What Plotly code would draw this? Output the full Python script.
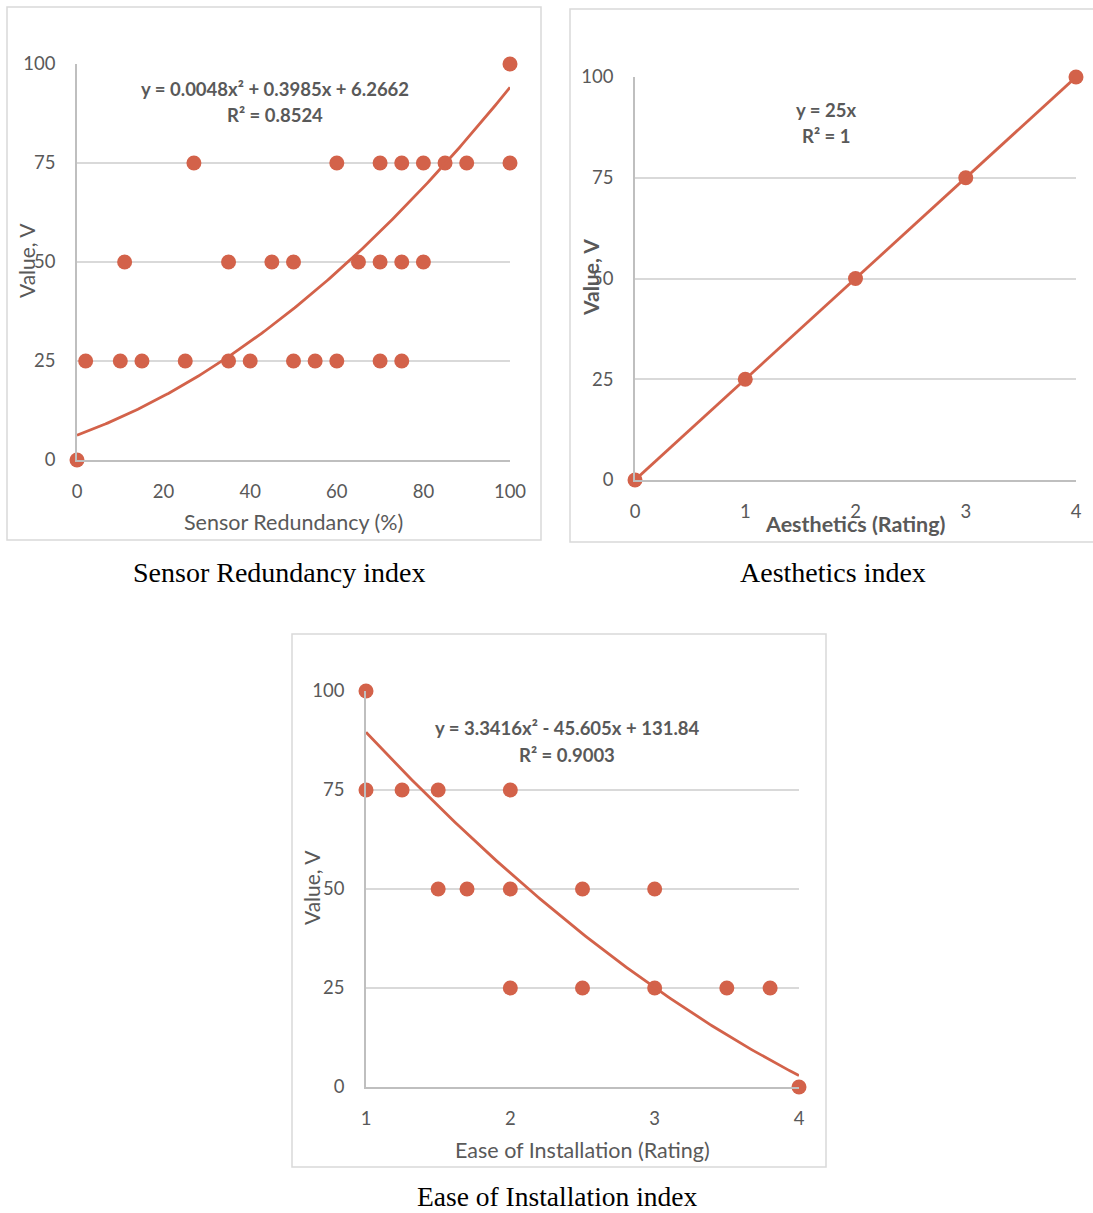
import numpy as np
import plotly.graph_objects as go

W, H = 1093, 1213

# ---------------- data ----------------
sr_x = [0, 2, 10, 15, 25, 35, 40, 50, 55, 60, 70, 75,
        11, 35, 45, 50, 65, 70, 75, 80,
        27, 60, 70, 75, 80, 85, 90, 100,
        100]
sr_y = [0, 25, 25, 25, 25, 25, 25, 25, 25, 25, 25, 25,
        50, 50, 50, 50, 50, 50, 50, 50,
        75, 75, 75, 75, 75, 75, 75, 75,
        100]
sr_coef = [0.0048, 0.3985, 6.2662]

ae_x = [0, 1, 2, 3, 4]
ae_y = [0, 25, 50, 75, 100]
ae_coef = [25, 0]

ei_x = [1, 1, 1.25, 1.5, 2, 1.5, 1.7, 2, 2.5, 3, 2, 2.5, 3, 3.5, 3.8, 4]
ei_y = [100, 75, 75, 75, 75, 50, 50, 50, 50, 50, 25, 25, 25, 25, 25, 0]
ei_coef = [3.3416, -45.605, 131.84]

sr_ticks_x = [0, 20, 40, 60, 80, 100]
ae_ticks_x = [0, 1, 2, 3, 4]
ei_ticks_x = [1, 2, 3, 4]
y_ticks = [0, 25, 50, 75, 100]

# ---------------- style ----------------
ORANGE = "#D3624A"
TXT = "#595959"
GRID = "#D9D9D9"
AXL = "#BFBFBF"
FONT = "Lato"


def px(x):
    return x / W


def py(y):
    return 1 - y / H


fig = go.Figure()

panels = [
    dict(x=sr_x, y=sr_y, coef=sr_coef, tr=(0, 100), ax="", xd=(77, 510), yd=(64, 460),
         xr=(0, 100), xt=sr_ticks_x),
    dict(x=ae_x, y=ae_y, coef=ae_coef, tr=(0, 4), ax="2", xd=(635, 1076), yd=(77, 480),
         xr=(0, 4), xt=ae_ticks_x),
    dict(x=ei_x, y=ei_y, coef=ei_coef, tr=(1, 4), ax="3", xd=(366, 799), yd=(691, 1087),
         xr=(1, 4), xt=ei_ticks_x),
]

for p in panels:
    xa = "x" + p["ax"]
    ya = "y" + p["ax"]
    xs = np.linspace(p["tr"][0], p["tr"][1], 200)
    ys = np.polyval(p["coef"], xs)
    fig.add_trace(go.Scatter(x=p["x"], y=p["y"], mode="markers", xaxis=xa, yaxis=ya,
                             marker=dict(color=ORANGE, size=15), cliponaxis=False,
                             showlegend=False, hoverinfo="skip"))
    fig.add_trace(go.Scatter(x=xs, y=ys, mode="lines", xaxis=xa, yaxis=ya,
                             line=dict(color=ORANGE, width=2.8), cliponaxis=False,
                             showlegend=False, hoverinfo="skip"))
    xkey = "xaxis" + p["ax"]
    ykey = "yaxis" + p["ax"]
    fig.update_layout(**{
        xkey: dict(domain=[px(p["xd"][0]), px(p["xd"][1])], range=list(p["xr"]),
                   tickvals=p["xt"], showgrid=False, zeroline=False, showline=True,
                   linecolor=AXL, linewidth=1.5, anchor=ya, ticks="",
                   ticklabelstandoff=14, automargin=False,
                   tickfont=dict(family=FONT, size=18.5, color=TXT), fixedrange=True),
        ykey: dict(domain=[py(p["yd"][1]), py(p["yd"][0])], range=[0, 100],
                   tickvals=y_ticks, showgrid=True, gridcolor=GRID, gridwidth=1.5,
                   zeroline=False, showline=True, linecolor=AXL, linewidth=1.5,
                   anchor=xa, ticks="", ticklabelstandoff=16, automargin=False,
                   tickfont=dict(family=FONT, size=18.5, color=TXT), fixedrange=True),
    })

# frames
frames = [(7, 7, 541, 540), (570, 9, 1110, 542), (292, 634, 826, 1167)]
shapes = []
for x0, y0, x1, y1 in frames:
    shapes.append(dict(type="rect", xref="paper", yref="paper",
                       x0=px(x0), x1=px(x1), y0=py(y1), y1=py(y0),
                       line=dict(color=GRID, width=1.5), fillcolor="rgba(0,0,0,0)",
                       layer="below"))

annotations = []


def ann(text, x, y, size=18, bold=False, angle=0, family=FONT, color=TXT,
        yanchor="middle"):
    t = "<b>%s</b>" % text if bold else text
    annotations.append(dict(text=t, x=px(x), y=py(y), xref="paper", yref="paper",
                            showarrow=False, xanchor="center", yanchor=yanchor,
                            borderpad=0, textangle=angle,
                            font=dict(family=family, size=size, color=color)))


# equations
ann("y = 0.0048x² + 0.3985x + 6.2662", 275, 89, size=18.5, bold=True)
ann("R² = 0.8524", 275, 115, size=18.5, bold=True)
ann("y = 25x", 826, 110, size=18.5, bold=True)
ann("R² = 1", 826, 136, size=18.5, bold=True)
ann("y = 3.3416x² - 45.605x + 131.84", 567, 728, size=18.5, bold=True)
ann("R² = 0.9003", 567, 755, size=18.5, bold=True)

# axis titles
ann("Sensor Redundancy (%)", 293, 522, size=21.5)
ann("Value, V", 26, 261, size=21, angle=-90)
ann("Aesthetics (Rating)", 855, 524, size=21.5, bold=True)
ann("Value, V", 590, 278, size=21, bold=True, angle=-90)
ann("Ease of Installation (Rating)", 582, 1150, size=21.5)
ann("Value, V", 311, 888, size=21, angle=-90)

# captions
ann("Sensor Redundancy index", 279, 572, size=28, family="Liberation Serif", color="black")
ann("Aesthetics index", 833, 572, size=28, family="Liberation Serif", color="black")
ann("Ease of Installation index", 557, 1213, size=27.5, family="Liberation Serif",
    color="black", yanchor="bottom")

fig.update_layout(width=W, height=H, autosize=False,
                  margin=dict(l=0, r=0, t=0, b=0, pad=0, autoexpand=False),
                  paper_bgcolor="white", plot_bgcolor="white",
                  shapes=shapes, annotations=annotations)

fig.write_html("out.html",
               config={"displayModeBar": False},
               post_script="document.body.style.margin='0';"
                           "document.body.style.overflow='hidden';")
